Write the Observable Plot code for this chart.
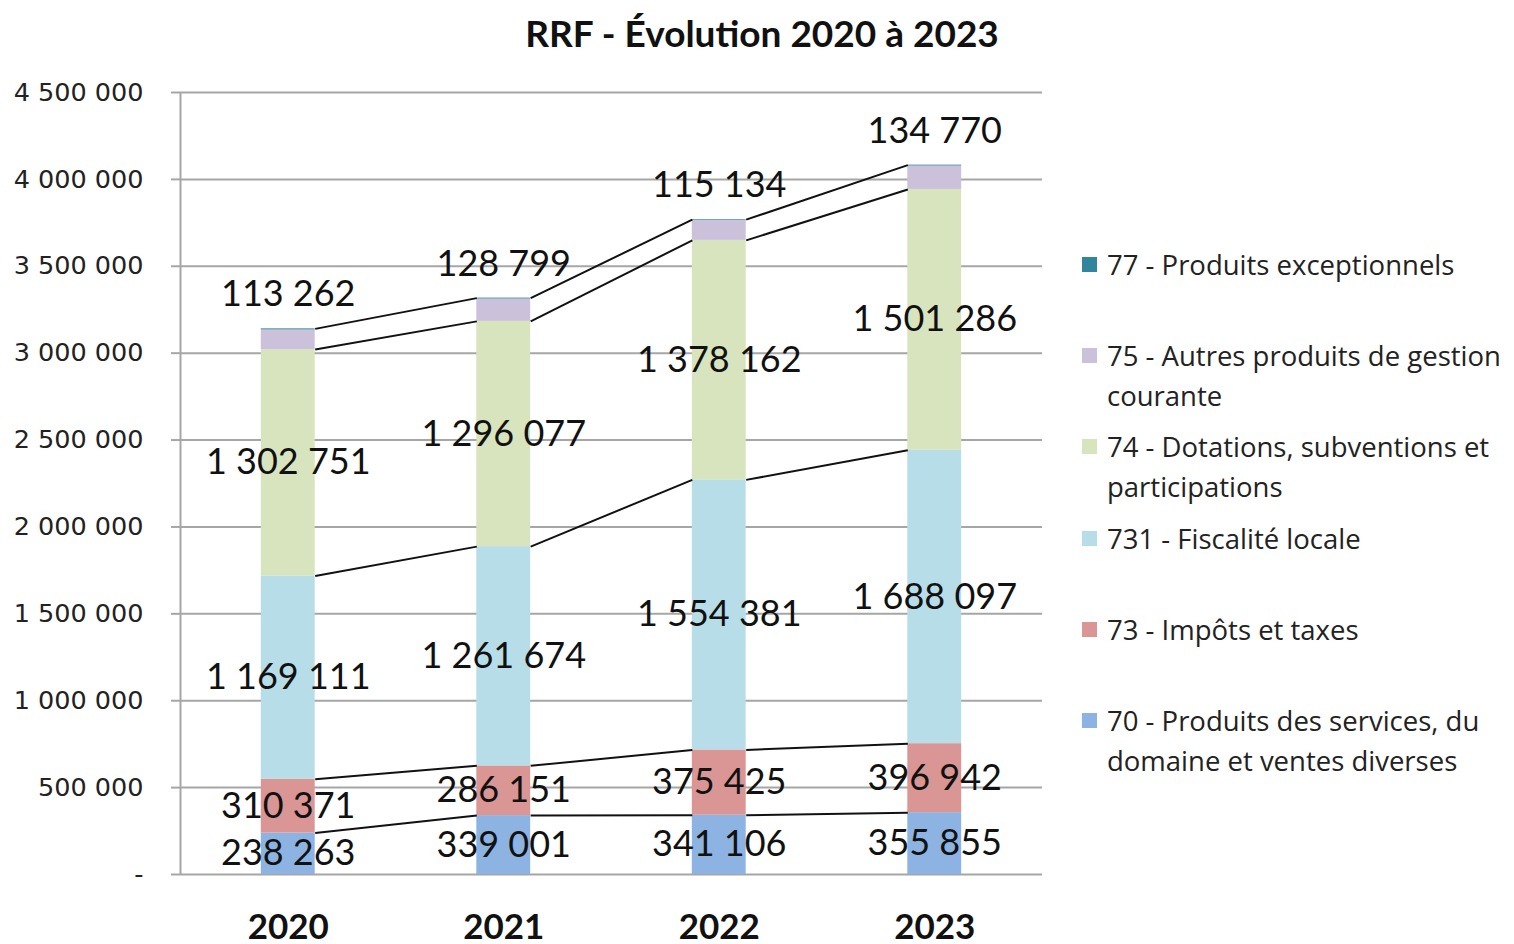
<!DOCTYPE html>
<html>
<head>
<meta charset="utf-8">
<script src="https://cdn.jsdelivr.net/npm/d3@7"></script>
<script src="https://cdn.jsdelivr.net/npm/@observablehq/plot@0.6"></script>
<style>
  html, body { margin: 0; padding: 0; background: #fff; }
  body { width: 1514px; height: 944px; position: relative; overflow: hidden; font-family: Lato, sans-serif; }
  #title { position: absolute; left: 0; top: 10px; width: 1524px; text-align: center; font-family: Lato, sans-serif; font-weight: bold; font-size: 37px; color: #111; }
  #chart { position: absolute; left: 0; top: 65px; }
  #legend { position: absolute; left: 1082px; top: 0; }
  .item { position: absolute; left: 0; width: 435px; }
  .sw { position: absolute; left: 0; top: 12px; width: 15px; height: 15px; }
  .lbl { position: absolute; left: 25px; top: 0; width: 410px; font-family: "Open Sans", sans-serif; font-size: 27.5px; line-height: 40px; color: #222; }
</style>
</head>
<body>
<div id="title">RRF - Évolution 2020 à 2023</div>
<div id="chart"></div>
<div id="legend"></div>
<script>
const years = [2020, 2021, 2022, 2023];
const seriesKeys = ["70", "73", "731", "74", "75", "77"];
const seriesNames = [
  "70 - Produits des services, du domaine et ventes diverses",
  "73 - Impôts et taxes",
  "731 - Fiscalité locale",
  "74 - Dotations, subventions et participations",
  "75 - Autres produits de gestion courante",
  "77 - Produits exceptionnels"
];
const seriesColors = ["#8db3e2", "#d99694", "#b7dee8", "#d7e4bd", "#ccc1da", "#31859c"];
const v70 = [238263, 339001, 341106, 355855];
const v73 = [310371, 286151, 375425, 396942];
const v731 = [1169111, 1261674, 1554381, 1688097];
const v74 = [1302751, 1296077, 1378162, 1501286];
const v75 = [113262, 128799, 115134, 134770];
const v77 = [6000, 5000, 4000, 5000];
const yTicks = [0, 500000, 1000000, 1500000, 2000000, 2500000, 3000000, 3500000, 4000000, 4500000];

const seriesValues = [v70, v73, v731, v74, v75, v77];
const fmt = v => d3.format(",")(v).replace(/,/g, " ");
const halfBar = 0.125;

// build stacked table
const rows = [];
years.forEach((year, i) => {
  let cum = 0;
  seriesKeys.forEach((s, j) => {
    const value = seriesValues[j][i];
    rows.push({year, series: s, value, y1: cum, y2: cum + value});
    cum += value;
  });
});
const topOf = (s, year) => rows.find(r => r.series === s && r.year === year).y2;

// connector lines
const boundaries = ["70", "73", "731", "74", "77"];
const links = [];
boundaries.forEach(s => {
  for (let i = 0; i < years.length - 1; i++) {
    links.push({x1: years[i] + halfBar, y1: topOf(s, years[i]), x2: years[i + 1] - halfBar, y2: topOf(s, years[i + 1])});
  }
});

const inLabels = rows.filter(r => ["70", "73", "731", "74"].includes(r.series));
const topLabels = years.map((year, i) => ({year, value: v75[i], total: topOf("77", year)}));

const chart = Plot.plot({
  width: 1060,
  height: 879,
  marginTop: 27,
  marginBottom: 70,
  marginLeft: 180,
  marginRight: 18,
  style: {fontFamily: "Lato, sans-serif", overflow: "visible", background: "transparent"},
  x: {type: "linear", domain: [2019.5, 2023.5], axis: null},
  y: {domain: [0, 4500000], axis: null},
  color: {domain: seriesKeys, range: seriesColors},
  marks: [
    Plot.gridY(yTicks, {stroke: "#a6a6a6", strokeOpacity: 1, strokeWidth: 2}),
    Plot.axisY({ticks: yTicks, tickFormat: d => d === 0 ? "-" : fmt(d), tickSize: 9, tickPadding: 28,
      stroke: "#a6a6a6", strokeWidth: 2, strokeOpacity: 1,
      fontSize: 25.5, fontFamily: "DejaVu Sans", fill: "#222", label: null}),
    Plot.ruleX([2019.5], {stroke: "#a6a6a6", strokeWidth: 2}),
    Plot.rect(rows, {x1: d => d.year - halfBar, x2: d => d.year + halfBar, y1: "y1", y2: "y2", fill: "series"}),
    Plot.link(links, {x1: "x1", y1: "y1", x2: "x2", y2: "y2", stroke: "#111", strokeWidth: 2}),
    Plot.text(inLabels, {x: "year", y: d => (d.y1 + d.y2) / 2, text: d => fmt(d.value), fontSize: 36, fontFamily: "Lato", fill: "#111"}),
    Plot.text(topLabels, {x: "year", y: "total", text: d => fmt(d.value), dy: -34, fontSize: 36, fontFamily: "Lato", fill: "#111"}),
    Plot.axisX({ticks: years, tickFormat: d => String(d), tickSize: 0, tickPadding: 40,
      fontSize: 35, fontWeight: "bold", fontFamily: "Lato", fill: "#111", label: null})
  ]
});
document.getElementById("chart").appendChild(chart);

// legend (top to bottom: reverse stack order)
const legend = document.getElementById("legend");
const order = seriesKeys.map((k, j) => j).reverse();
order.forEach((j, idx) => {
  const item = document.createElement("div");
  item.className = "item";
  item.style.top = (245 + idx * 91.2) + "px";
  const sw = document.createElement("div");
  sw.className = "sw";
  sw.style.background = seriesColors[j];
  const lbl = document.createElement("div");
  lbl.className = "lbl";
  lbl.textContent = seriesNames[j];
  item.appendChild(sw);
  item.appendChild(lbl);
  legend.appendChild(item);
});
</script>
</body>
</html>
